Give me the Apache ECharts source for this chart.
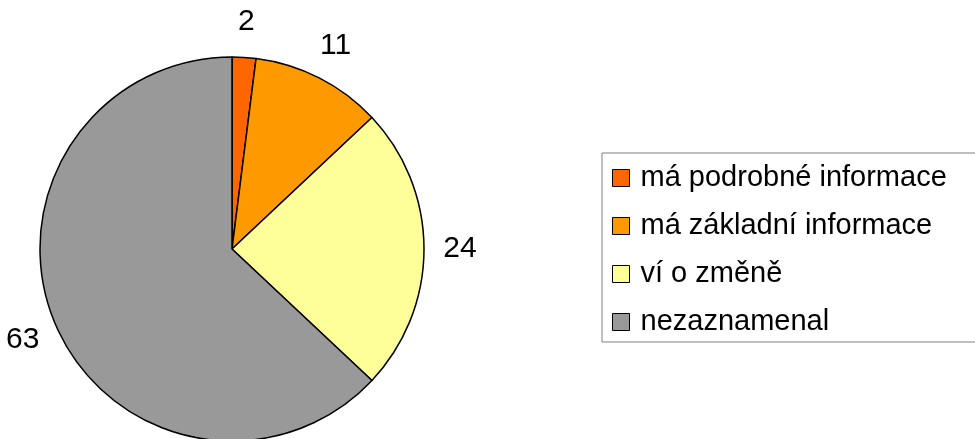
<!DOCTYPE html>
<html>
<head>
<meta charset="utf-8">
<script src="https://cdn.jsdelivr.net/npm/echarts@6/dist/echarts.min.js"></script>
<style>
  html, body { margin: 0; padding: 0; background: #fff; }
  #chart { width: 975px; height: 439px; }
</style>
</head>
<body>
<div id="chart"></div>
<script>
// data
var names = ['má podrobné informace', 'má základní informace', 'ví o změně', 'nezaznamenal'];
var values = [2, 11, 24, 63];
var colors = ['#FF6600', '#FF9900', '#FFFF99', '#999999'];

var chart = echarts.init(document.getElementById('chart'));

var pieData = names.map(function (n, i) {
  return { name: n, value: values[i], itemStyle: { color: colors[i] } };
});
// transparent ring only used to place the value labels outside the pie
var labelData = names.map(function (n, i) {
  return { name: n, value: values[i] };
});

var option = {
  animation: false,
  legend: {
    orient: 'vertical',
    left: 602,
    top: 153,
    data: names,
    icon: 'rect',
    itemWidth: 17,
    itemHeight: 17,
    itemGap: 14,
    padding: [8, 40, 3, 10],
    borderColor: '#808080',
    borderWidth: 1,
    itemStyle: { borderColor: '#000', borderWidth: 1 },
    textStyle: {
      fontFamily: 'Liberation Sans, Arial, sans-serif',
      fontSize: 29,
      lineHeight: 34,
      color: '#000',
      padding: [0, 0, 0, 6]
    },
    selectedMode: false
  },
  series: [
    {
      type: 'pie',
      center: [232, 249],
      radius: 192,
      startAngle: 90,
      clockwise: true,
      data: pieData,
      label: { show: false },
      labelLine: { show: false },
      itemStyle: { borderColor: '#000', borderWidth: 1.5 },
      emphasis: { disabled: true },
      silent: true
    },
    {
      type: 'pie',
      center: [232, 249],
      radius: [192, 258],
      startAngle: 90,
      clockwise: true,
      data: labelData,
      itemStyle: { color: 'rgba(0,0,0,0)', borderWidth: 0 },
      label: {
        show: true,
        position: 'inside',
        formatter: '{c}',
        color: '#000',
        fontFamily: 'Liberation Sans, Arial, sans-serif',
        fontSize: 30
      },
      labelLine: { show: false },
      emphasis: { disabled: true },
      silent: true
    }
  ]
};

chart.setOption(option);
</script>
</body>
</html>
